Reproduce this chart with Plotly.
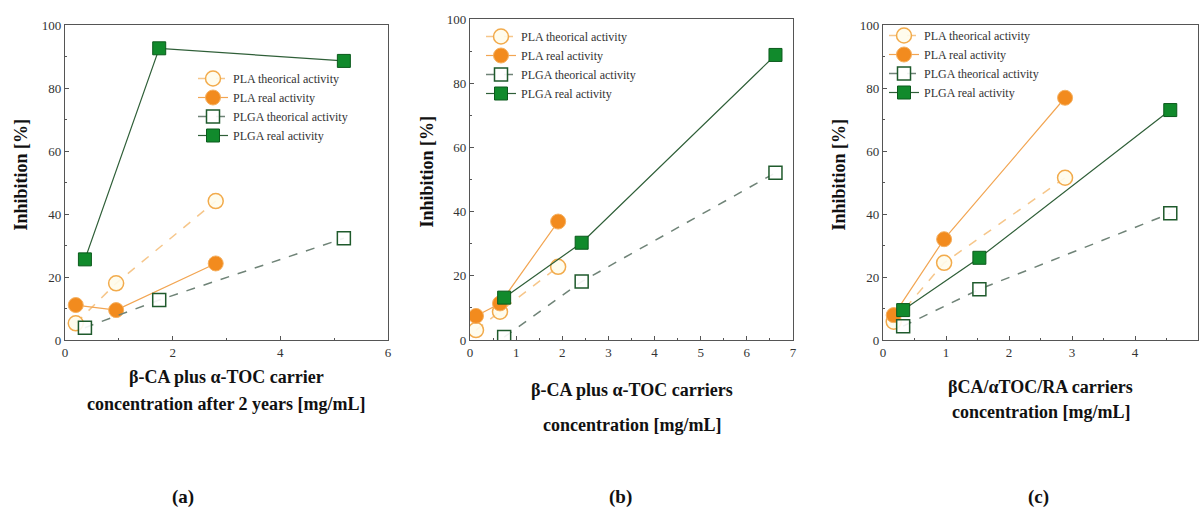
import plotly.graph_objects as go

# ---------------- data ----------------
series_names = ["PLA theorical activity", "PLA real activity",
                "PLGA theorical activity", "PLGA real activity"]

# panel (a)
a_pla_x = [0.20, 0.95, 2.80]
a_pla_theo = [5.3, 18.0, 44.1]
a_pla_real = [11.1, 9.5, 24.3]
a_plga_x = [0.37, 1.75, 5.18]
a_plga_theo = [3.9, 12.7, 32.3]
a_plga_real = [25.6, 92.6, 88.6]

# panel (b)
b_pla_x = [0.13, 0.65, 1.91]
b_pla_theo = [3.1, 8.8, 22.8]
b_pla_real = [7.5, 11.4, 36.9]
b_plga_x = [0.74, 2.42, 6.62]
b_plga_theo = [0.9, 18.2, 52.1]
b_plga_real = [13.2, 30.3, 88.8]

# panel (c)
c_pla_x = [0.17, 0.97, 2.89]
c_pla_theo = [5.8, 24.5, 51.5]
c_pla_real = [7.9, 32.0, 76.9]
c_plga_x = [0.32, 1.53, 4.56]
c_plga_theo = [4.4, 16.1, 40.2]
c_plga_real = [9.5, 26.1, 73.0]

x_title_lines = [
    ["β-CA plus α-TOC carrier", "concentration after 2 years [mg/mL]"],
    ["β-CA plus α-TOC carriers", "concentration [mg/mL]"],
    ["βCA/αTOC/RA carriers", "concentration [mg/mL]"],
]
y_title = "Inhibition [%]"
panel_labels = ["(a)", "(b)", "(c)"]
x_ranges = [[0, 6], [0, 7], [0, 5]]
x_dticks = [2, 1, 1]

# ---------------- styling ----------------
W, H = 1201, 517
SERIF = "Liberation Serif, Times New Roman, serif"

PLA_T_LINE = "#f6c68a"
PLA_T_EDGE = "#f2ab4c"
PLA_R_LINE = "#f2a552"
PLA_R_FILL = "#f28b1e"
PLGA_T_LINE = "#6f8377"
PLGA_T_EDGE = "#1f5a2c"
PLGA_R_LINE = "#2f5f38"
PLGA_R_FILL = "#118a2c"

# pixel geometry of each plot box (left, right, top, bottom)
boxes = [(65, 388, 25, 340), (470, 793, 19, 340), (883, 1198, 25, 340)]
legend_pos = [(193, 64), (481, 22), (884, 21)]
title_line_y = [(377, 404), (390, 425), (387, 412)]
label_x = [183, 620, 1038]

fig = go.Figure()

panels = [
    (a_pla_x, a_pla_theo, a_pla_real, a_plga_x, a_plga_theo, a_plga_real),
    (b_pla_x, b_pla_theo, b_pla_real, b_plga_x, b_plga_theo, b_plga_real),
    (c_pla_x, c_pla_theo, c_pla_real, c_plga_x, c_plga_theo, c_plga_real),
]

for i, (plax, plat, plar, plgax, plgat, plgar) in enumerate(panels):
    xa = "x" if i == 0 else f"x{i+1}"
    ya = "y" if i == 0 else f"y{i+1}"
    lg = "legend" if i == 0 else f"legend{i+1}"
    fig.add_trace(go.Scatter(
        x=plax, y=plat, xaxis=xa, yaxis=ya, legend=lg, name=series_names[0],
        mode="lines+markers",
        line=dict(color=PLA_T_LINE, width=1.5, dash="dash"),
        marker=dict(symbol="circle", size=15, color="rgba(255,252,235,0.9)",
                    line=dict(color=PLA_T_EDGE, width=1.5))))
    fig.add_trace(go.Scatter(
        x=plax, y=plar, xaxis=xa, yaxis=ya, legend=lg, name=series_names[1],
        mode="lines+markers",
        line=dict(color=PLA_R_LINE, width=1.2),
        marker=dict(symbol="circle", size=15, color=PLA_R_FILL,
                    line=dict(color="#f5b060", width=1))))
    fig.add_trace(go.Scatter(
        x=plgax, y=plgat, xaxis=xa, yaxis=ya, legend=lg, name=series_names[2],
        mode="lines+markers",
        line=dict(color=PLGA_T_LINE, width=1.5, dash="dash"),
        marker=dict(symbol="square", size=13, color="rgba(255,255,255,0.9)",
                    line=dict(color=PLGA_T_EDGE, width=1.5))))
    fig.add_trace(go.Scatter(
        x=plgax, y=plgar, xaxis=xa, yaxis=ya, legend=lg, name=series_names[3],
        mode="lines+markers",
        line=dict(color=PLGA_R_LINE, width=1.2),
        marker=dict(symbol="square", size=13, color=PLGA_R_FILL,
                    line=dict(color="#0b5a1c", width=1))))

layout = dict(
    width=W, height=H,
    margin=dict(l=0, r=0, t=0, b=0, autoexpand=False),
    paper_bgcolor="white", plot_bgcolor="white",
    font=dict(family=SERIF, size=12, color="#222222"),
    annotations=[],
)

axis_common = dict(
    showline=True, mirror=True, linecolor="#555555", linewidth=1.3,
    showgrid=False, zeroline=False, ticks="inside", ticklen=4,
    tickcolor="#555555", tickfont=dict(family=SERIF, size=13, color="#333333"),
)

for i, (l, r, t, b) in enumerate(boxes):
    sfx = "" if i == 0 else str(i + 1)
    xdom = [l / W, r / W]
    ydom = [1 - b / H, 1 - t / H]
    layout["xaxis" + sfx] = dict(
        axis_common, domain=xdom, range=x_ranges[i], dtick=x_dticks[i], tick0=0,
        anchor="y" + sfx,
        minor=dict(ticks="inside", ticklen=2, tickcolor="#555555",
                   dtick=x_dticks[i] / 2),
    )
    layout["yaxis" + sfx] = dict(
        axis_common, domain=ydom, range=[0, 100], dtick=20, tick0=0,
        anchor="x" + sfx,
        minor=dict(ticks="inside", ticklen=2, tickcolor="#555555", dtick=10),
    )
    # y title
    layout["annotations"].append(dict(
        text="<b>" + y_title + "</b>", xref="paper", yref="paper",
        x=(l - 44) / W, y=1 - ((t + b) / 2 - 8) / H, textangle=-90,
        showarrow=False, font=dict(family=SERIF, size=18, color="#111111"),
        xanchor="center", yanchor="middle"))
    # x title (two lines)
    for line_text, ly_px in zip(x_title_lines[i], title_line_y[i]):
        layout["annotations"].append(dict(
            text="<b>" + line_text + "</b>", xref="paper", yref="paper",
            x=(l + r) / 2 / W, y=1 - ly_px / H,
            xanchor="center", yanchor="middle",
            showarrow=False,
            font=dict(family=SERIF, size=18, color="#111111")))
    # panel label
    layout["annotations"].append(dict(
        text="<b>" + panel_labels[i] + "</b>", xref="paper", yref="paper",
        x=label_x[i] / W, y=1 - 497 / H, xanchor="center", yanchor="middle",
        showarrow=False, font=dict(family=SERIF, size=19, color="#111111")))
    # legend
    lx, ly = legend_pos[i]
    layout["legend" + sfx] = dict(
        x=lx / W, y=1 - ly / H, xanchor="left", yanchor="top",
        bgcolor="rgba(0,0,0,0)", borderwidth=0,
        font=dict(family=SERIF, size=12, color="#333333"),
        itemwidth=30, tracegroupgap=0,
    )

fig.update_layout(**layout)
fig.write_html("out.html", config={"displayModeBar": False},
               post_script="document.body.style.margin='0';")
